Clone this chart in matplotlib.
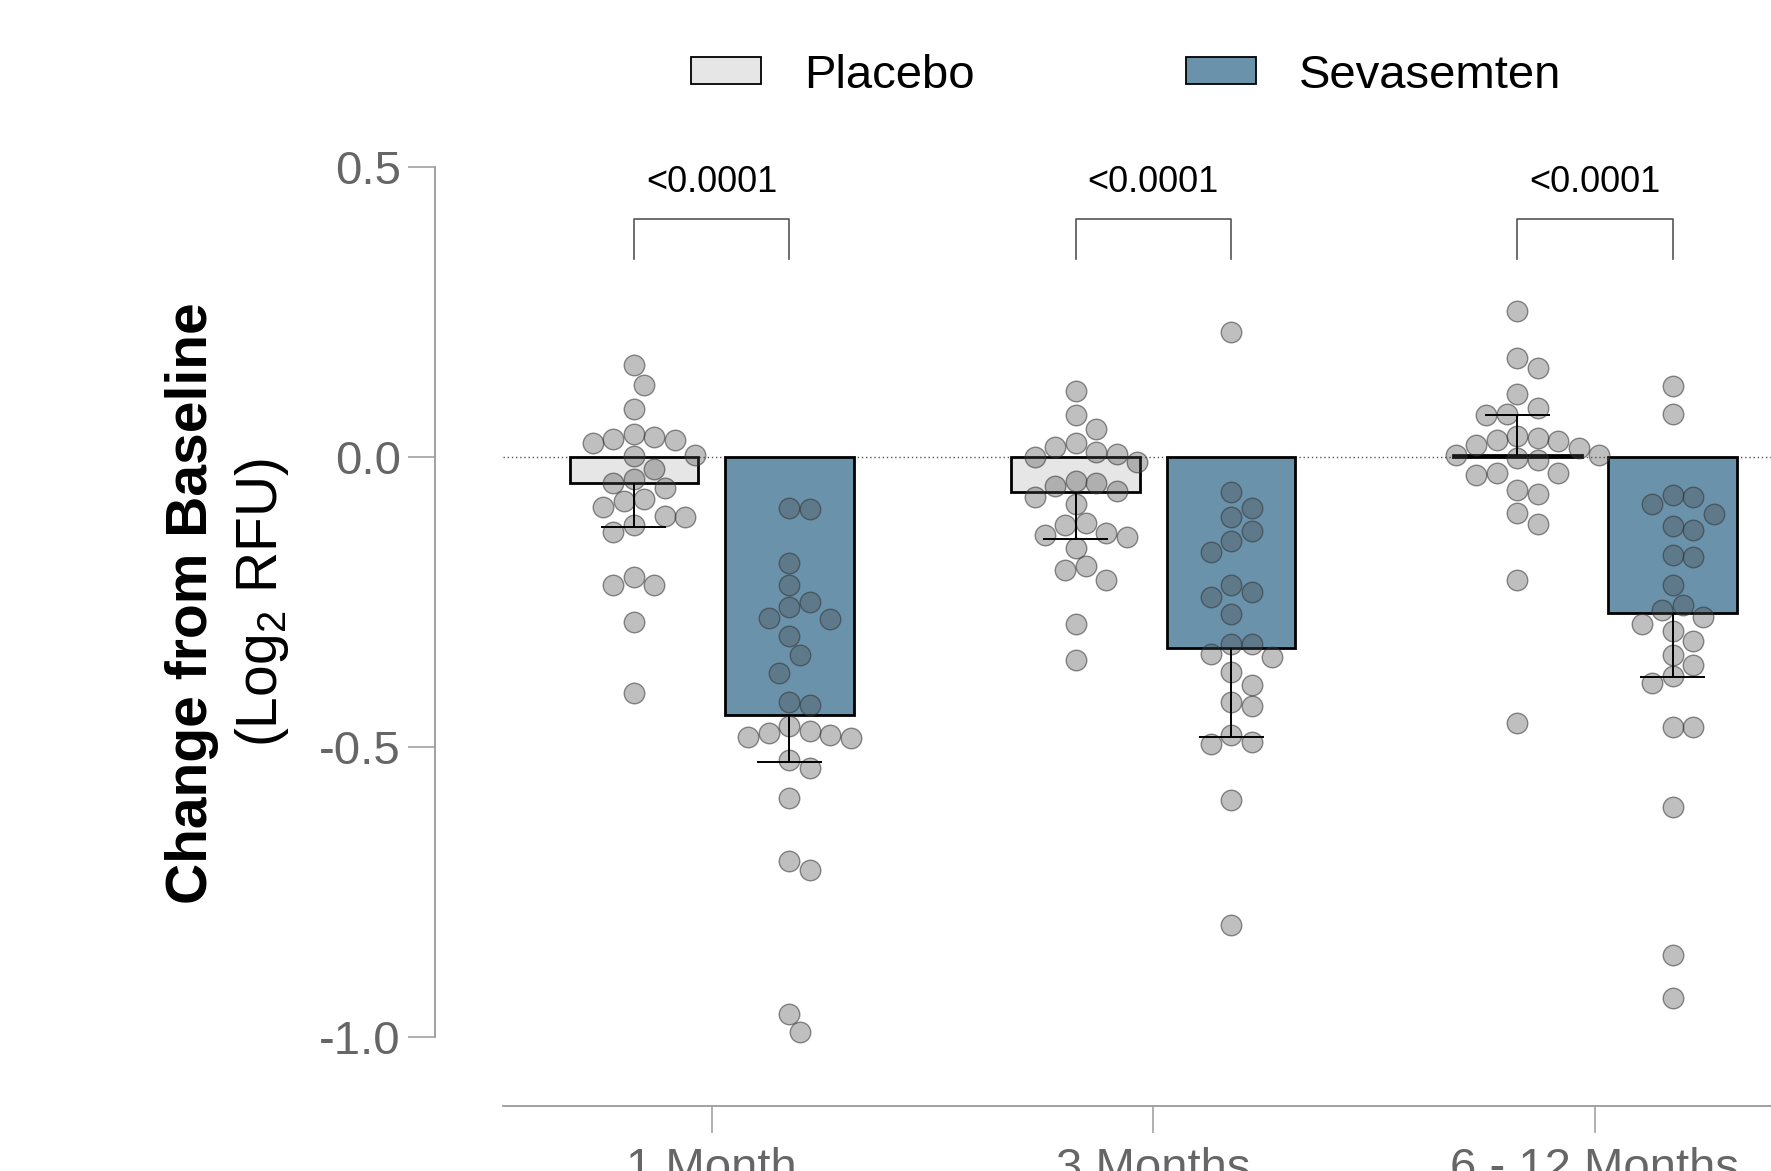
import numpy as np
import matplotlib
matplotlib.use('Agg')
import matplotlib.pyplot as plt
from matplotlib.patches import Patch

plt.rcParams['font.family'] = ['Liberation Sans', 'DejaVu Sans']
plt.rcParams['mathtext.fontset'] = 'custom'
plt.rcParams['mathtext.rm'] = 'Liberation Sans'

# ---- data ----
groups = ['1 Month', '3 Months', '6 - 12 Months']
p_values = ['<0.0001', '<0.0001', '<0.0001']

placebo_1m = [0.158, 0.124, 0.082, 0.033, 0.038, 0.024, 0.031, 0.028, 0.001, 0.003,
              -0.022, -0.045, -0.039, -0.054, -0.076, -0.073, -0.087, -0.104, -0.103,
              -0.118, -0.130, -0.221, -0.207, -0.222, -0.286, -0.407]
seva_1m = [-0.088, -0.091, -0.184, -0.221, -0.251, -0.260, -0.279, -0.281, -0.310, -0.343,
           -0.373, -0.428, -0.423, -0.484, -0.481, -0.476, -0.474, -0.464, -0.486, -0.524,
           -0.537, -0.589, -0.713, -0.697, -0.992, -0.961]
placebo_3m = [0.113, 0.072, 0.047, 0.007, -0.001, 0.005, 0.017, 0.023, -0.010, -0.046,
              -0.050, -0.059, -0.070, -0.043, -0.082, -0.114, -0.118, -0.135, -0.138,
              -0.132, -0.157, -0.196, -0.189, -0.213, -0.288, -0.350]
seva_3m = [0.215, -0.062, -0.089, -0.105, -0.145, -0.129, -0.164, -0.222, -0.233, -0.242,
           -0.272, -0.324, -0.323, -0.346, -0.341, -0.371, -0.394, -0.430, -0.424, -0.480,
           -0.495, -0.493, -0.592, -0.807]
placebo_6m = [0.251, 0.169, 0.152, 0.107, 0.084, 0.073, 0.072, 0.036, 0.032, 0.026,
              0.029, 0.020, 0.015, 0.003, -0.006, -0.003, 0.003, -0.032, -0.029, -0.029,
              -0.065, -0.057, -0.097, -0.116, -0.213, -0.460]
seva_6m = [0.122, 0.073, -0.066, -0.082, -0.069, -0.099, -0.120, -0.127, -0.174, -0.169,
           -0.222, -0.256, -0.265, -0.277, -0.288, -0.300, -0.318, -0.342, -0.359, -0.378,
           -0.391, -0.467, -0.467, -0.604, -0.859, -0.933]

placebo_bar = [-0.046, -0.061, 0.003]
seva_bar = [-0.445, -0.330, -0.269]
placebo_err_end = [-0.122, -0.143, 0.072]
seva_err_end = [-0.527, -0.483, -0.381]

placebo_pts = [placebo_1m, placebo_3m, placebo_6m]
seva_pts = [seva_1m, seva_3m, seva_6m]

# ---- style ----
PLACEBO_COLOR = '#e6e6e6'
SEVA_COLOR = '#6a93ab'
AXIS_GRAY = '#9a9a9a'
TEXT_GRAY = '#666666'
DOT_FACE = (0.29, 0.29, 0.29, 0.35)
DOT_EDGE = (0.2, 0.2, 0.2, 0.55)
DOT_DIAM = 20.5   # pixels
OFFSET = 0.176
WIDTH = 0.291
CAP = 0.0736


def swarm(ax, xc, vals):
    # simple beeswarm in pixel space, returns x positions in data units
    pix = ax.transData.transform([(xc, v) for v in vals])
    ypx = pix[:, 1]
    px_per_x = ax.transData.transform([(1, 0)])[0, 0] - ax.transData.transform([(0, 0)])[0, 0]
    step = DOT_DIAM / 2
    placed = []
    offs = np.zeros(len(vals))
    cands = [0]
    for k in range(1, 12):
        cands += [k, -k]
    for i in np.argsort(-ypx):
        for k in cands:
            ox = k * step
            if all((ox - px) ** 2 + (ypx[i] - py) ** 2 >= DOT_DIAM ** 2 for px, py in placed):
                break
        placed.append((ox, ypx[i]))
        offs[i] = ox
    return xc + offs / px_per_x


fig = plt.figure(figsize=(17.71, 11.71), dpi=100)
ax = fig.add_axes([503 / 1771, 65 / 1171, 1 - 503 / 1771, (1106 - 137.5) / 1171])
ax.set_xlim(-0.4723, 2.3985)
ax.set_ylim(-1.1198, 0.55)

x = np.arange(len(groups))

# bars
ax.bar(x - OFFSET, placebo_bar, width=WIDTH, color=PLACEBO_COLOR, edgecolor='black', linewidth=2, zorder=2)
ax.bar(x + OFFSET, seva_bar, width=WIDTH, color=SEVA_COLOR, edgecolor='black', linewidth=2, zorder=2)

# zero line
ax.axhline(0, color='#555555', linestyle=(0, (1, 2)), linewidth=1, zorder=1)

# dots
for i in range(len(groups)):
    for xc, vals in [(x[i] - OFFSET, placebo_pts[i]), (x[i] + OFFSET, seva_pts[i])]:
        xs = swarm(ax, xc, vals)
        ax.scatter(xs, vals, s=DOT_DIAM ** 2 * 0.52, facecolor=DOT_FACE, edgecolor=DOT_EDGE,
                   linewidth=1, zorder=3)

# one sided error bars
for xc, med, end in zip(list(x - OFFSET) + list(x + OFFSET), placebo_bar + seva_bar,
                        placebo_err_end + seva_err_end):
    ax.vlines(xc, med, end, color='black', linewidth=1.4, zorder=4)
    ax.hlines(end, xc - CAP, xc + CAP, color='black', linewidth=1.4, zorder=4)

# significance brackets
for i, p in enumerate(p_values):
    ax.plot([x[i] - OFFSET, x[i] - OFFSET, x[i] + OFFSET, x[i] + OFFSET],
            [0.340, 0.409, 0.409, 0.340], color='#555555', linewidth=1.2, clip_on=False)
    ax.text(x[i], 0.472, p, ha='center', va='center', fontsize=26, color='black')

# axes styling
for s in ['top', 'right']:
    ax.spines[s].set_visible(False)
ax.spines['left'].set_position(('outward', 49))
ax.spines['left'].set_bounds(-1.0, 0.5)
for s in ['left', 'bottom']:
    ax.spines[s].set_color(AXIS_GRAY)
    ax.spines[s].set_linewidth(1.3)
ax.set_yticks([-1.0, -0.5, 0.0, 0.5])
ax.set_yticklabels(['-1.0', '-0.5', '0.0', '0.5'])
ax.set_xticks(x)
ax.set_xticklabels(groups)
ax.tick_params(axis='both', length=19.5, width=1.1, color=AXIS_GRAY, labelsize=34, labelcolor=TEXT_GRAY)
ax.tick_params(axis='y', pad=5)
ax.tick_params(axis='x', pad=10)

# y label (two lines)
fig.text(192 / 1771, 0.485, 'Change from Baseline', rotation=90, ha='center', va='center',
         fontsize=41, fontweight='bold', color='black')
fig.text(262 / 1771, 0.485, r'(Log$_\mathregular{2}$ RFU)', rotation=90, ha='center', va='center',
         fontsize=41, color='black')

# legend
handles = [Patch(facecolor=PLACEBO_COLOR, edgecolor='black', linewidth=1.3, label='Placebo'),
           Patch(facecolor=SEVA_COLOR, edgecolor='black', linewidth=1.3, label='Sevasemten')]
fig.legend(handles=handles, loc='center', bbox_to_anchor=(1126 / 1771, 1 - 75.5 / 1171), ncol=2,
           frameon=False, fontsize=34, handlelength=1.48, handleheight=0.51,
           handletextpad=0.91, columnspacing=4.47)

fig.savefig('out.png', dpi=100)
